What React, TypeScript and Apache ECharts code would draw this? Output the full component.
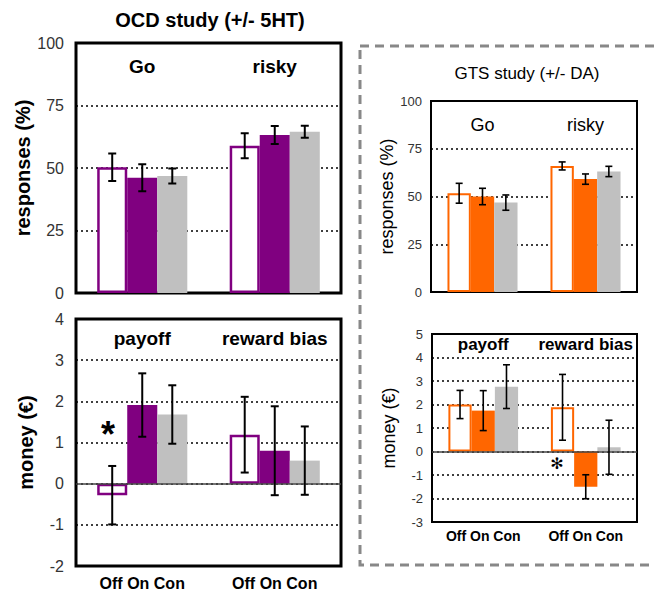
import React, { useEffect, useRef } from 'react';
import * as echarts from 'echarts';

// ---------- data ----------
const conditions = ['Off', 'On', 'Con'];
const responseCats = ['Go', 'risky'];
const moneyCats = ['payoff', 'reward bias'];

// OCD study (+/- 5HT) – responses (%)
const ocdRespOff = [50.3, 58.9];
const ocdRespOn = [46.1, 63.2];
const ocdRespCon = [46.8, 64.5];
const ocdRespErrOff = [5.5, 5.0];
const ocdRespErrOn = [5.4, 3.6];
const ocdRespErrCon = [3.0, 2.4];

// OCD study – money (€)
const ocdMoneyOff = [-0.28, 1.19];
const ocdMoneyOn = [1.91, 0.8];
const ocdMoneyCon = [1.68, 0.56];
const ocdMoneyErrOff = [0.71, 0.92];
const ocdMoneyErrOn = [0.77, 1.08];
const ocdMoneyErrCon = [0.71, 0.83];

// GTS study (+/- DA) – responses (%)
const gtsRespOff = [51.7, 66.0];
const gtsRespOn = [50.0, 59.1];
const gtsRespCon = [46.8, 63.1];
const gtsRespErrOff = [5.2, 2.1];
const gtsRespErrOn = [4.3, 2.7];
const gtsRespErrCon = [4.0, 2.7];

// GTS study – money (€)
const gtsMoneyOff = [2.0, 1.88];
const gtsMoneyOn = [1.74, -1.5];
const gtsMoneyCon = [2.76, 0.18];
const gtsMoneyErrOff = [0.6, 1.4];
const gtsMoneyErrOn = [0.85, 0.51];
const gtsMoneyErrCon = [0.93, 1.15];

const FONT = '"Liberation Sans", Arial, Helvetica, sans-serif';
const PURPLE = '#800080';
const ORANGE = '#ff6600';
const GRAY = '#c0c0c0';

type Panel = {
  grid: any;
  cats: string[];
  vals: number[][];
  errs: number[][];
  color: string;
  min: number;
  max: number;
  interval: number;
  yName: string;
  nameGap: number;
  nameBold: boolean;
  nameSize: number;
  tickSize: number;
  tickMargin: number;
  catSize: number;
  catBold: boolean;
  catMargin: number;
  showCond: boolean;
  condSize: number;
  condMargin: number;
  money: boolean;
  borderW: number;
  errW: number;
  capHalf: number;
};

const panels: Panel[] = [
  {
    grid: { left: 76, top: 43, width: 265, height: 250 },
    cats: responseCats,
    vals: [ocdRespOff, ocdRespOn, ocdRespCon],
    errs: [ocdRespErrOff, ocdRespErrOn, ocdRespErrCon],
    color: PURPLE, min: 0, max: 100, interval: 25,
    yName: 'responses (%)', nameGap: 40, nameBold: true, nameSize: 20,
    tickSize: 16, tickMargin: 12,
    catSize: 19, catBold: true, catMargin: 14,
    showCond: false, condSize: 16, condMargin: 9,
    money: false, borderW: 3, errW: 2, capHalf: 4,
  },
  {
    grid: { left: 76, top: 319, width: 265, height: 247 },
    cats: moneyCats,
    vals: [ocdMoneyOff, ocdMoneyOn, ocdMoneyCon],
    errs: [ocdMoneyErrOff, ocdMoneyErrOn, ocdMoneyErrCon],
    color: PURPLE, min: -2, max: 4, interval: 1,
    yName: 'money (€)', nameGap: 40, nameBold: true, nameSize: 20,
    tickSize: 16, tickMargin: 12,
    catSize: 19, catBold: true, catMargin: 10,
    showCond: true, condSize: 16, condMargin: 9,
    money: true, borderW: 3, errW: 2, capHalf: 4,
  },
  {
    grid: { left: 431, top: 101, width: 206, height: 191 },
    cats: responseCats,
    vals: [gtsRespOff, gtsRespOn, gtsRespCon],
    errs: [gtsRespErrOff, gtsRespErrOn, gtsRespErrCon],
    color: ORANGE, min: 0, max: 100, interval: 25,
    yName: 'responses (%)', nameGap: 31, nameBold: false, nameSize: 18,
    tickSize: 13, tickMargin: 9,
    catSize: 18, catBold: false, catMargin: 15,
    showCond: false, condSize: 14, condMargin: 7,
    money: false, borderW: 2, errW: 1.6, capHalf: 3.5,
  },
  {
    grid: { left: 432, top: 334, width: 205, height: 188 },
    cats: moneyCats,
    vals: [gtsMoneyOff, gtsMoneyOn, gtsMoneyCon],
    errs: [gtsMoneyErrOff, gtsMoneyErrOn, gtsMoneyErrCon],
    color: ORANGE, min: -3, max: 5, interval: 1,
    yName: 'money (€)', nameGap: 34, nameBold: false, nameSize: 18,
    tickSize: 13, tickMargin: 9,
    catSize: 17, catBold: true, catMargin: 2,
    showCond: true, condSize: 14, condMargin: 7,
    money: true, borderW: 2, errW: 1.6, capHalf: 3.5,
  },
];

const GAP = 0.32;

function buildOption() {
  const grid: any[] = [];
  const xAxis: any[] = [];
  const yAxis: any[] = [];
  const series: any[] = [];

  panels.forEach((p, i) => {
    grid.push({
      ...p.grid,
      show: true,
      borderColor: '#000',
      borderWidth: p.borderW,
      backgroundColor: '#fff',
      containLabel: false,
    });
    xAxis.push({
      type: 'category',
      gridIndex: i,
      data: p.cats,
      axisLine: { show: false, onZero: false },
      axisTick: { show: false },
      splitLine: { show: false },
      axisLabel: {
        show: p.showCond,
        interval: 0,
        hideOverlap: false,
        margin: p.condMargin,
        formatter: () => conditions.join(' '),
        fontFamily: FONT,
        fontSize: p.condSize,
        fontWeight: 'bold',
        color: '#000',
      },
    });
    xAxis.push({
      type: 'category',
      gridIndex: i,
      position: 'top',
      data: p.cats,
      axisLine: { show: false },
      axisTick: { show: false },
      splitLine: { show: false },
      axisLabel: {
        inside: true,
        interval: 0,
        hideOverlap: false,
        margin: p.catMargin,
        fontFamily: FONT,
        fontSize: p.catSize,
        fontWeight: p.catBold ? 'bold' : 'normal',
        color: '#000',
      },
    });
    yAxis.push({
      type: 'value',
      gridIndex: i,
      min: p.min,
      max: p.max,
      interval: p.interval,
      name: p.yName,
      nameLocation: 'middle',
      nameRotate: 90,
      nameGap: p.nameGap,
      nameTextStyle: {
        fontFamily: FONT,
        fontSize: p.nameSize,
        fontWeight: p.nameBold ? 'bold' : 'normal',
        color: '#000',
      },
      axisLine: { show: false },
      axisTick: { show: false },
      axisLabel: {
        margin: p.tickMargin,
        fontFamily: FONT,
        fontSize: p.tickSize,
        color: '#333',
      },
      splitLine: {
        show: true,
        lineStyle: { color: '#000', type: [2, 3], width: 1.5 },
      },
    });

    const xIdx = i * 2;
    conditions.forEach((c, s) => {
      const isOff = s === 0;
      const fill = s === 0 ? '#fff' : s === 1 ? p.color : GRAY;
      const bar: any = {
        type: 'bar',
        name: c,
        xAxisIndex: xIdx,
        yAxisIndex: i,
        data: p.vals[s],
        barGap: '0%',
        barCategoryGap: GAP * 100 + '%',
        itemStyle: {
          color: fill,
          borderColor: isOff ? p.color : fill,
          borderWidth: isOff ? (p.borderW >= 3 ? 2.5 : 2) : 0,
        },
        silent: true,
        z: 2,
      };
      if (p.money && s === 0) {
        bar.markLine = {
          silent: true,
          symbol: ['none', 'none'],
          label: { show: false },
          lineStyle: { color: '#444', type: 'solid', width: 1.5 },
          data: [{ yAxis: 0 }],
        };
      }
      series.push(bar);
    });

    const errData: number[][] = [];
    conditions.forEach((_, s) => {
      p.cats.forEach((__, ci) => {
        errData.push([ci, s, p.vals[s][ci], p.errs[s][ci]]);
      });
    });
    series.push({
      type: 'custom',
      xAxisIndex: xIdx,
      yAxisIndex: i,
      data: errData,
      encode: { x: 0, y: 2 },
      silent: true,
      z: 5,
      renderItem: (params: any, api: any) => {
        const ci = api.value(0);
        const s = api.value(1);
        const m = api.value(2);
        const e = api.value(3);
        const bandW = api.size([1, 0])[0];
        const barW = (bandW * (1 - GAP)) / 3;
        const cx = api.coord([ci, m])[0] + (s - 1) * barW;
        const yt = api.coord([ci, m + e])[1];
        const yb = api.coord([ci, m - e])[1];
        const st = { stroke: '#000', lineWidth: p.errW };
        return {
          type: 'group',
          children: [
            { type: 'line', shape: { x1: cx, y1: yt, x2: cx, y2: yb }, style: st },
            { type: 'line', shape: { x1: cx - p.capHalf, y1: yt, x2: cx + p.capHalf, y2: yt }, style: st },
            { type: 'line', shape: { x1: cx - p.capHalf, y1: yb, x2: cx + p.capHalf, y2: yb }, style: st },
          ],
        };
      },
    });
  });

  return {
    animation: false,
    backgroundColor: '#fff',
    grid,
    xAxis,
    yAxis,
    series,
    graphic: [
      {
        type: 'rect',
        shape: { x: 360, y: 46, width: 320, height: 519 },
        style: { fill: 'none', stroke: '#888', lineWidth: 3, lineDash: [9, 6] },
        silent: true,
        z: 0,
      },
      {
        type: 'text',
        x: 210,
        y: 20,
        style: {
          text: 'OCD study (+/- 5HT)',
          textAlign: 'center',
          textVerticalAlign: 'middle',
          font: `bold 20px ${FONT}`,
          fill: '#000',
        },
      },
      {
        type: 'text',
        x: 527,
        y: 73,
        style: {
          text: 'GTS study (+/- DA)',
          textAlign: 'center',
          textVerticalAlign: 'middle',
          font: `17px ${FONT}`,
          fill: '#000',
        },
      },
      {
        type: 'text',
        x: 108,
        y: 434,
        z: 10,
        style: {
          text: '*',
          textAlign: 'center',
          textVerticalAlign: 'middle',
          font: `bold 36px ${FONT}`,
          fill: '#000',
        },
      },
      {
        type: 'text',
        x: 557,
        y: 463,
        z: 10,
        style: {
          text: '✻',
          textAlign: 'center',
          textVerticalAlign: 'middle',
          font: `16px "DejaVu Sans", sans-serif`,
          fill: '#000',
        },
      },
    ],
  };
}

export default function App() {
  const ref = useRef<HTMLDivElement>(null);
  useEffect(() => {
    if (!ref.current) return;
    const chart = echarts.init(ref.current, null, { renderer: 'svg' });
    chart.setOption(buildOption());
    return () => chart.dispose();
  }, []);
  return (
    <div
      ref={ref}
      style={{ position: 'absolute', left: 0, top: 0, width: 655, height: 592, background: '#fff' }}
    />
  );
}
